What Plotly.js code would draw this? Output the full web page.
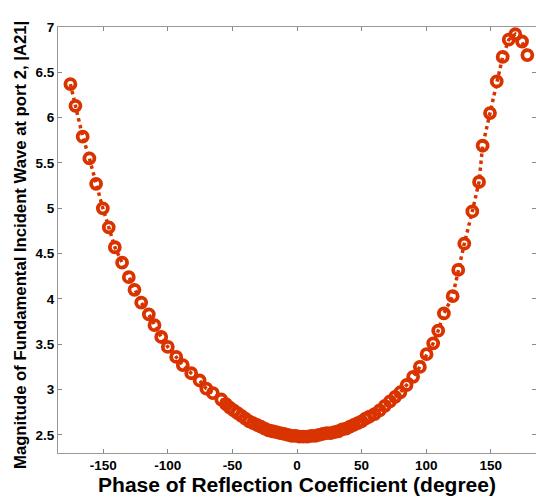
<!DOCTYPE html>
<html>
<head>
<meta charset="utf-8">
<script src="https://cdn.plot.ly/plotly-3.0.1.min.js"></script>
<style>
html,body{margin:0;padding:0;background:#fff;}
#chart{width:536px;height:498px;}
</style>
</head>
<body>
<div id="chart"></div>
<script>
// Phase of reflection coefficient (degree)
const phaseDeg = [
  -175.4, -171.5, -165.9, -160.7, -155.5, -150.3, -145.7, -141.0, -135.4, -130.2,
  -125.8, -120.6, -114.7, -110.3, -105.1, -100.0, -93.5, -88.4, -81.9, -75.4,
  -70.2, -65.1, -58.6, -55, -52, -49, -46, -43, -40, -37,
  -34, -31, -28, -25, -22, -19, -16, -13, -10, -7,
  -4, -1, 2, 5, 8, 11, 14, 17, 20, 23,
  26, 29, 32, 35, 38, 41, 44, 47, 50, 53,
  56, 60, 64, 68, 72, 76, 80, 84.8, 89.9, 95.1,
  100.3, 105.4, 109.3, 113.7, 120.5, 124.8, 129.5, 135.7, 140.9, 143.7,
  149.4, 154.6, 159.2, 163.9, 169.0, 174.2, 178.3
];
// Magnitude of fundamental incident wave at port 2, |A21|
const a21Mag = [
  6.37, 6.13, 5.79, 5.55, 5.27, 5.00, 4.79, 4.57, 4.40, 4.24,
  4.10, 3.96, 3.83, 3.71, 3.58, 3.47, 3.36, 3.27, 3.18, 3.10,
  3.01, 2.96, 2.89, 2.84, 2.80, 2.77, 2.74, 2.71, 2.68, 2.65,
  2.63, 2.61, 2.59, 2.57, 2.55, 2.54, 2.53, 2.52, 2.51, 2.50,
  2.49, 2.49, 2.48, 2.48, 2.48, 2.49, 2.49, 2.50, 2.51, 2.52,
  2.52, 2.53, 2.54, 2.56, 2.57, 2.59, 2.61, 2.63, 2.65, 2.68,
  2.70, 2.73, 2.77, 2.82, 2.87, 2.92, 2.97, 3.05, 3.14, 3.25,
  3.39, 3.51, 3.65, 3.84, 4.03, 4.32, 4.61, 4.965, 5.29, 5.69,
  6.05, 6.40, 6.67, 6.86, 6.92, 6.84, 6.69
];
const xTickVals = [-150, -100, -50, 0, 50, 100, 150];
const yTickVals = [2.5, 3, 3.5, 4, 4.5, 5, 5.5, 6, 6.5, 7];
const xTitle = 'Phase of Reflection Coefficient (degree)';
const yTitle = 'Magnitude of Fundamental Incident Wave at port 2, |A21|';

const red = '#d93300';
const fontFam = '"Liberation Sans", Arial, Helvetica, sans-serif';

const trace = {
  x: phaseDeg,
  y: a21Mag,
  type: 'scatter',
  mode: 'lines+markers',
  line: {color: red, width: 3.5, dash: 'dot'},
  marker: {symbol: 'circle-open', size: 10, color: red, line: {color: red, width: 3.8}},
  showlegend: false
};

const layout = {
  width: 536,
  height: 498,
  margin: {l: 58, r: 0, t: 27, b: 45},
  paper_bgcolor: '#fff',
  plot_bgcolor: '#fff',
  font: {family: fontFam, color: '#000'},
  xaxis: {
    range: [-185, 185],
    tickvals: xTickVals,
    ticktext: xTickVals.map(String),
    ticks: 'inside',
    ticklen: 4,
    tickcolor: '#888',
    showline: true,
    linecolor: '#999',
    linewidth: 1,
    mirror: 'ticks',
    showgrid: false,
    zeroline: false,
    tickfont: {size: 13.5, family: fontFam, weight: 'bold'},
    title: {text: '<b>' + xTitle + '</b>', font: {size: 21, family: fontFam}, standoff: 5}
  },
  yaxis: {
    range: [2.3, 7],
    tickvals: yTickVals,
    ticktext: yTickVals.map(String),
    ticks: 'inside',
    ticklen: 4,
    tickcolor: '#888',
    showline: true,
    linecolor: '#999',
    linewidth: 1,
    mirror: 'ticks',
    showgrid: false,
    zeroline: false,
    tickfont: {size: 13.5, family: fontFam, weight: 'bold'}
  },
  annotations: [{
    text: '<b>' + yTitle + '</b>',
    xref: 'paper', yref: 'paper',
    x: 0, y: 0.5,
    xanchor: 'center', yanchor: 'middle',
    xshift: -38, yshift: -5,
    textangle: -90,
    showarrow: false,
    font: {size: 16.7, family: fontFam, color: '#000'}
  }]
};

Plotly.newPlot('chart', [trace], layout, {displayModeBar: false, staticPlot: true});
</script>
</body>
</html>
